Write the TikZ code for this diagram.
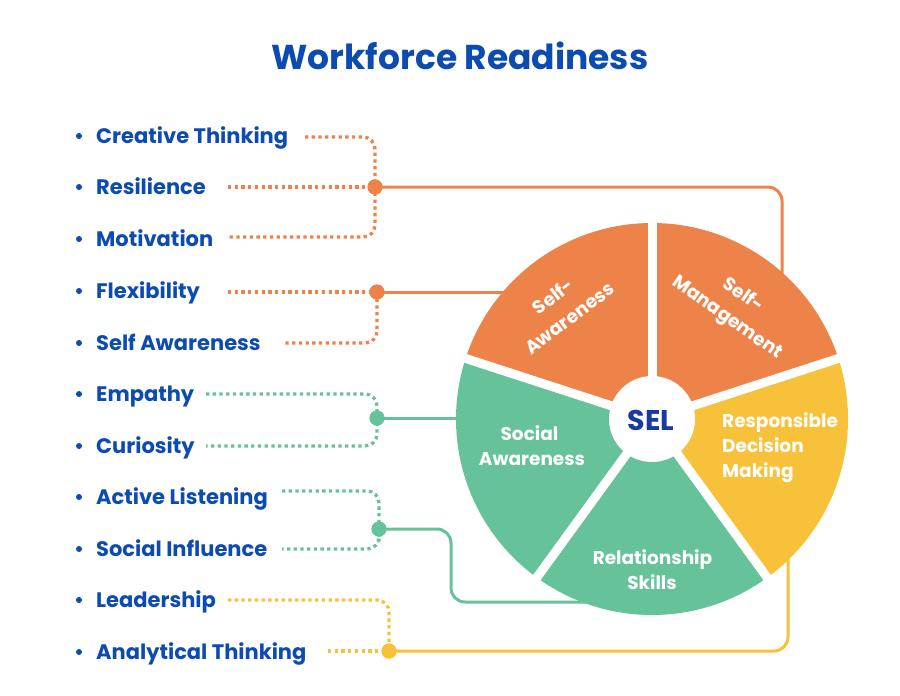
\documentclass[tikz,border=0pt]{standalone}
\usepackage{fontspec}
\setmainfont{Poppins}
\definecolor{cOr}{RGB}{238,131,74}
\definecolor{cGr}{RGB}{102,195,153}
\definecolor{cYe}{RGB}{248,193,58}
\definecolor{cBl}{RGB}{12,76,178}
\definecolor{cNv}{RGB}{24,58,165}
\tikzset{
  item/.style={anchor=base west, inner sep=0pt, text=cBl, font=\fontsize{21}{24}\selectfont\bfseries},
  bullet/.style={circle, fill=cBl, inner sep=0pt, minimum size=6pt},
  jdot/.style={circle, fill=#1, inner sep=0pt, minimum size=15pt},
  dotline/.style={draw=#1, line width=3.3pt, dash pattern=on 3.3pt off 3.4pt, rounded corners=12pt},
  solidline/.style={draw=#1, line width=3pt, rounded corners=14pt},
  seglabel/.style={text=white, inner sep=0pt, font=\fontsize{18.5}{27}\selectfont\bfseries},
}
\begin{document}
\begin{tikzpicture}[x=1pt, y=-1pt]
\useasboundingbox (0,0) rectangle (900,696);
\fill[white] (0,0) rectangle (900,696);
% title
\node[anchor=base, inner sep=0pt, text=cBl, font=\fontsize{34.5}{40}\selectfont\bfseries] (title) at (460,69.5) {Workforce Readiness};
% list
\foreach \n/\t/\y in {i1/Creative Thinking/136, i2/Resilience/187, i3/Motivation/239, i4/Flexibility/291, i5/Self Awareness/343, i6/Empathy/394, i7/Curiosity/446, i8/Active Listening/497, i9/Social Influence/549, i10/Leadership/600, i11/Analytical Thinking/652}{
  \node[bullet] (b\n) at (79,\y) {};
  \node[item] (\n) at (96,\y+7.5) {\t};
}
% connector end points
\coordinate (ct) at (305,137);
\coordinate (re) at (228,187);
\coordinate (mo) at (228,237);
\coordinate (fl) at (228,292);
\coordinate (sa) at (282,343);
\coordinate (em) at (206,394);
\coordinate (cu) at (206,446);
\coordinate (al) at (282,491);
\coordinate (si) at (282,549);
\coordinate (le) at (228,600);
\coordinate (an) at (328,651);
\coordinate (tSM) at (782,290);
\coordinate (tSA) at (520,292);
\coordinate (tSoc) at (475,418);
\coordinate (tRS) at (600,602);
\coordinate (tRDM) at (788,545);
% junction dots
\node[jdot=cOr] (d1) at (375,187) {};
\node[jdot=cOr] (d2) at (377,292) {};
\node[jdot=cGr] (d3) at (377,418) {};
\node[jdot=cGr] (d4) at (379,529) {};
\node[jdot=cYe] (d5) at (389,651) {};
% dotted connectors
\draw[dotline=cOr] (ct) -| (d1.center) |- (mo);
\draw[dotline=cOr] (re) -- (d1.center);
\draw[dotline=cOr] (fl) -- (d2.center);
\draw[dotline=cOr] (d2.center) |- (sa);
\draw[dotline=cGr] (em) -| (d3.center) |- (cu);
\draw[dotline=cGr] (al) -| (d4.center) |- (si);
\draw[dotline=cYe] (le) -| (d5.center);
\draw[dotline=cYe] (an) -- (d5.center);
% solid connectors
\draw[solidline=cOr] (d1.center) -| (tSM);
\draw[solidline=cOr] (d2.center) -- (tSA);
\draw[solidline=cGr] (d3.center) -- (tSoc);
\draw[solidline=cGr] (d4.center) -- (451,529) -- (451,602) -- (tRS);
\draw[solidline=cYe] (d5.center) -| (tRDM);
% redraw dots on top
\fill[cOr] (d1) circle (7.5);
\fill[cOr] (d2) circle (7.5);
\fill[cGr] (d3) circle (7.5);
\fill[cGr] (d4) circle (7.5);
\fill[cYe] (d5) circle (7.5);
% wheel
\begin{scope}[shift={(652,419)}, y=1pt]
  \fill[cOr] (0,0) -- (90:196) arc[start angle=90, end angle=162, radius=196] -- cycle;
  \fill[cOr] (0,0) -- (18:196) arc[start angle=18, end angle=90, radius=196] -- cycle;
  \fill[cYe] (0,0) -- (-54:196) arc[start angle=-54, end angle=18, radius=196] -- cycle;
  \fill[cGr] (0,0) -- (-126:196) arc[start angle=-126, end angle=-54, radius=196] -- cycle;
  \fill[cGr] (0,0) -- (162:196) arc[start angle=162, end angle=234, radius=196] -- cycle;
  \foreach \a in {90,162,234,306,18}{
    \draw[white, line width=9pt] (0,0) -- (\a:197);
  }
  \fill[white] (0,0) circle (43);
\end{scope}
% wheel labels
\node[anchor=base, inner sep=0pt, text=cNv, font=\fontsize{28.5}{32}\selectfont\bfseries] (sel) at (651,430.5) {SEL};
\node[seglabel, align=center, rotate=37] (lSA) at (561,307) {Self-\\Awareness};
\node[seglabel, align=center, rotate=-35] (lSM) at (735,307) {Self-\\Management};
\node[seglabel, anchor=base] (lSoc1) at (529.5,440) {Social};
\node[seglabel, anchor=base] (lSoc2) at (532,465) {Awareness};
\node[seglabel, anchor=base] (lRS1) at (652.5,564) {Relationship};
\node[seglabel, anchor=base] (lRS2) at (652,589) {Skills};
\node[seglabel, anchor=base west] (lRDM1) at (722,427) {Responsible};
\node[seglabel, anchor=base west] (lRDM2) at (722,452) {Decision};
\node[seglabel, anchor=base west] (lRDM3) at (722,477) {Making};
\end{tikzpicture}
\end{document}
